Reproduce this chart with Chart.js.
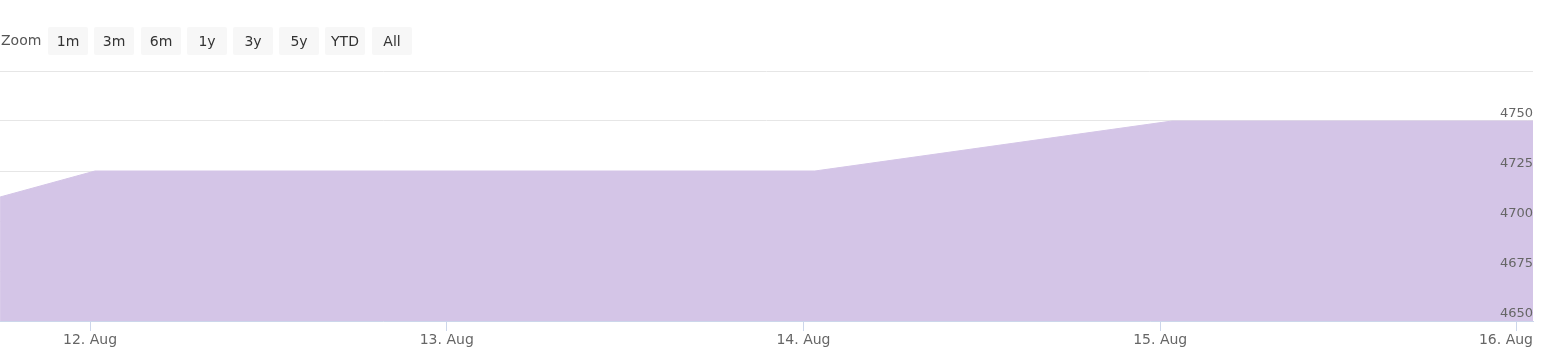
<!DOCTYPE html>
<html>
<head>
<meta charset="utf-8">
<script src="https://cdn.jsdelivr.net/npm/chart.js@4.4.1/dist/chart.umd.min.js"></script>
<style>
  html, body { margin: 0; padding: 0; background: #fff; }
  #wrap { position: relative; width: 1556px; height: 360px; }
  #c { position: absolute; left: 0; top: 0; }
  #zoom { position: absolute; left: 1px; top: 27px; font-family: "DejaVu Sans", sans-serif; font-size: 14px; color: #555; }
  #zoom span.lbl { position: absolute; left: 0; top: 5px; }
  #zoom .btn { position: absolute; top: 0; width: 40px; height: 28px; line-height: 28px; text-align: center; background: #f7f7f7; color: #333; border-radius: 2px; }
</style>
</head>
<body>
<div id="wrap">
  <canvas id="c" width="1556" height="360"></canvas>
  <div id="zoom"></div>
</div>
<script>
// ---- data (x = days after 12 Aug 00:00) ----
const zoomButtons = ["1m", "3m", "6m", "1y", "3y", "5y", "YTD", "All"];
const xTickValues = [0, 1, 2, 3, 4];
const xTickLabels = ["12. Aug", "13. Aug", "14. Aug", "15. Aug", "16. Aug"];
const yTickValues = [4650, 4675, 4700, 4725, 4750];
const pointDays   = [-0.252, 0.014, 1.02, 2.032, 3.033, 4.03, 4.045];
const pointValues = [4712, 4725, 4725, 4725, 4750, 4750, 4750];

// zoom buttons
const zoomDiv = document.getElementById('zoom');
const lbl = document.createElement('span'); lbl.className = 'lbl'; lbl.textContent = 'Zoom'; zoomDiv.appendChild(lbl);
const btnLeft = [47, 93, 140, 186, 232, 278, 324, 371];
zoomButtons.forEach((t, i) => {
  const b = document.createElement('div'); b.className = 'btn'; b.textContent = t;
  b.style.left = btnLeft[i] + 'px'; zoomDiv.appendChild(b);
});

const labelPlugin = {
  id: 'axisLabels',
  afterDatasetsDraw(chart) {
    const ctx = chart.ctx, y = chart.scales.y, x = chart.scales.x, area = chart.chartArea;
    ctx.save();
    ctx.fillStyle = '#666';
    ctx.font = '13px "DejaVu Sans", sans-serif';
    ctx.textAlign = 'right';
    ctx.textBaseline = 'middle';
    yTickValues.forEach(v => {
      ctx.fillText(String(v), area.right, y.getPixelForValue(v) - 7);
    });
    ctx.font = '14px "DejaVu Sans", sans-serif';
    ctx.textBaseline = 'middle';
    xTickValues.forEach((v, i) => {
      const px = x.getPixelForValue(v);
      const w = ctx.measureText(xTickLabels[i]).width;
      let cx = px;
      if (cx + w / 2 > area.right) cx = area.right - w / 2;
      ctx.textAlign = 'center';
      ctx.fillText(xTickLabels[i], cx, area.bottom + 19);
    });
    ctx.restore();
  }
};

new Chart(document.getElementById('c'), {
  type: 'line',
  data: {
    datasets: [{
      data: pointDays.map((d, i) => ({ x: d, y: pointValues[i] })),
      backgroundColor: 'rgb(212,197,231)',
      borderColor: 'rgb(212,197,231)',
      borderWidth: 1,
      pointRadius: 0,
      fill: 'start',
      tension: 0
    }]
  },
  options: {
    responsive: false,
    animation: false,
    layout: { padding: { left: 0, right: 0, top: 71, bottom: 0 } },
    plugins: { legend: { display: false }, tooltip: { enabled: false } },
    scales: {
      x: {
        type: 'linear',
        min: -0.2523,
        max: 4.045,
        afterBuildTicks: s => { s.ticks = xTickValues.map(v => ({ value: v })); },
        afterFit: s => { s.height = 39; },
        grid: { drawOnChartArea: false, drawTicks: true, tickLength: 10, color: '#ccd6eb' },
        border: { display: true, color: '#ccd6eb' },
        ticks: { display: false }
      },
      y: {
        position: 'right',
        min: 4650,
        max: 4775,
        afterBuildTicks: s => { s.ticks = [4650, 4675, 4700, 4725, 4750, 4775].map(v => ({ value: v })); },
        afterFit: s => { s.width = 23; },
        grid: { color: '#e6e6e6', drawTicks: false },
        border: { display: false },
        ticks: { display: false }
      }
    }
  },
  plugins: [labelPlugin]
});
</script>
</body>
</html>
